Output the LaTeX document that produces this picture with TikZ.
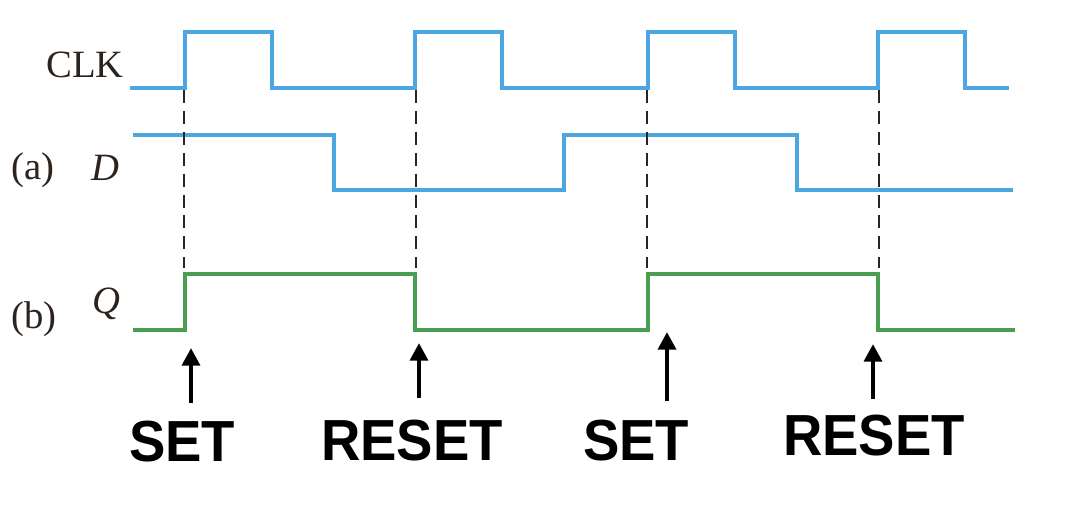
\documentclass[tikz,border=0pt]{standalone}
\usepackage{fontspec}
\setmainfont{Liberation Serif}
\newfontfamily\eventfont{Liberation Sans}
\usetikzlibrary{arrows.meta}
\definecolor{clkblue}{RGB}{76,166,226}
\definecolor{qgreen}{RGB}{74,158,82}
\definecolor{inkbrown}{RGB}{45,35,30}
\newcommand{\narrow}[1]{\scalebox{0.94}[1]{#1}}
\begin{document}
\begin{tikzpicture}[x=0.02cm,y=-0.02cm,
  sig/.style={font=\fontsize{22}{26}\selectfont,text=inkbrown,inner sep=0pt},
  event/.style={font=\eventfont\bfseries\fontsize{33}{36}\selectfont,inner sep=0pt},
  wave/.style={line width=2.7pt,line join=miter},
  guide/.style={line width=1.6pt,dash pattern=on 7.4pt off 4.5pt,black!85},
  arr/.style={line width=2.8pt,-{Triangle[length=10pt,width=10pt]}}]
\useasboundingbox (0,0) rectangle (1078,508);

% signal names
\node[sig,anchor=base east] (clk) at (124,77) {CLK};
\node[sig,anchor=base] (a) at (33,179) {(a)};
\node[sig,anchor=base] (d) at (105,180) {\textit{D}};
\node[sig,anchor=base] (b) at (34,328) {(b)};
\node[sig,anchor=base] (q) at (106,313) {\textit{Q}};

% waveforms
\path[draw=clkblue,wave] (130,88) -- (185,88) -- (185,32) -- (272,32) -- (272,88) -- (415,88) -- (415,32) -- (502,32) -- (502,88) -- (648,88) -- (648,32) -- (735,32) -- (735,88) -- (878,88) -- (878,32) -- (965,32) -- (965,88) -- (1009,88);
\path[draw=clkblue,wave] (133,135) -- (334,135) -- (334,190) -- (564,190) -- (564,135) -- (797,135) -- (797,190) -- (1013,190);
\path[draw=qgreen,wave] (133,330) -- (185,330) -- (185,274) -- (415,274) -- (415,330) -- (648,330) -- (648,274) -- (878,274) -- (878,330) -- (1015,330);

% rising edges
\foreach \x in {184,416,647,879}
  \path[draw,guide] (\x,90) -- (\x,268);

% events
\node[event] (set1) at (182,442) {\narrow{SET}};
\node[event] (reset1) at (412,441) {\narrow{RESET}};
\node[event] (set2) at (636,441) {\narrow{SET}};
\node[event] (reset2) at (874,436) {\narrow{RESET}};

\coordinate (s1) at (191,403);
\coordinate (r1) at (419,398);
\coordinate (s2) at (667,401);
\coordinate (r2) at (873,399);
\coordinate (e1) at (191,348);
\coordinate (e2) at (419,343);
\coordinate (e3) at (667,332);
\coordinate (e4) at (873,344);
\path[draw,arr] (s1) -- (e1);
\path[draw,arr] (r1) -- (e2);
\path[draw,arr] (s2) -- (e3);
\path[draw,arr] (r2) -- (e4);
\end{tikzpicture}
\end{document}
